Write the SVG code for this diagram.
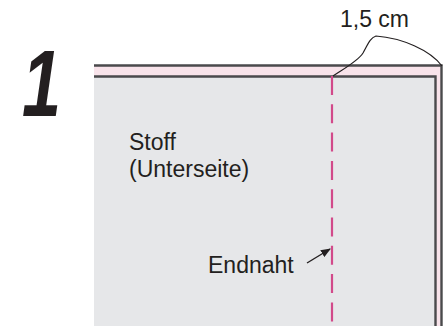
<svg xmlns="http://www.w3.org/2000/svg" width="446" height="326" viewBox="0 0 446 326">
<style>
.t{font-family:"Liberation Sans",Arial,sans-serif;fill:#231f20;font-size:23px}
.edge{stroke:#4a4a4c;stroke-width:2.4;fill:none}
</style>
<defs>
<marker id="ah" markerWidth="10" markerHeight="8" refX="9" refY="4" orient="auto" markerUnits="userSpaceOnUse">
<path d="M0,0 L10,4 L0,8 Z" fill="#231f20"/>
</marker>
</defs>
<rect width="446" height="326" fill="#ffffff"/>
<g id="fabric">
<rect x="94" y="65" width="348" height="261" fill="#f8e3ea"/>
<rect x="94" y="76" width="342" height="250" fill="#e6e7e9"/>
<path class="edge" d="M94,65.5 H441.5 V326"/>
<path class="edge" d="M94,76.5 H435.5 V326"/>
</g>
<g id="seam">
<line x1="332" y1="76" x2="332" y2="326" stroke="#d24a8a" stroke-width="2.2" stroke-dasharray="19 9.3"/>
</g>
<g id="number">
<text transform="translate(22,116) scale(0.78,1.05)" x="0" y="0" font-family="Liberation Sans,Arial,sans-serif" font-weight="bold" font-style="italic" font-size="90" fill="#231f20">1</text>
</g>
<g id="labels">
<text class="t" x="129" y="150">Stoff</text>
<text class="t" x="129" y="177">(Unterseite)</text>
<text class="t" x="208" y="273">Endnaht</text>
<text class="t" x="340" y="27">1,5 cm</text>
</g>
<g id="connectors">
<path d="M333,76 C345,68 358,61 363,53 C368,44 370,38 376,36 C402,38 430,50 442,66" fill="none" stroke="#231f20" stroke-width="1.2"/>
<line x1="307" y1="263" x2="330" y2="249" stroke="#231f20" stroke-width="1.4" marker-end="url(#ah)"/>
</g>
</svg>
